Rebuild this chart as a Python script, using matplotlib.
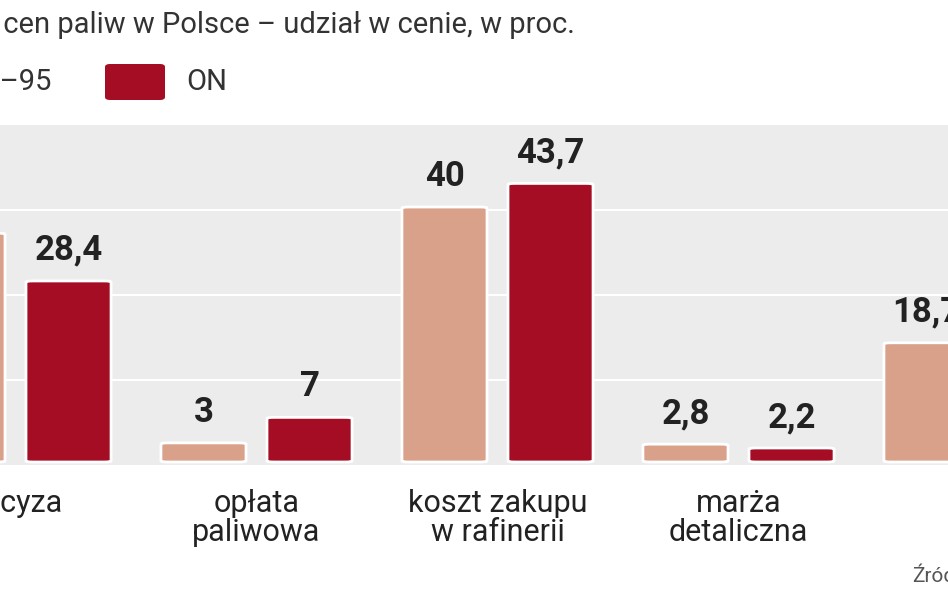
import matplotlib.pyplot as plt
from matplotlib.patches import FancyBboxPatch

plt.rcParams['font.family'] = ['Roboto', 'DejaVu Sans']

categories = ['akcyza', 'opłata\npaliwowa', 'koszt zakupu\nw rafinerii', 'marża\ndetaliczna', 'VAT']
pb95 = [35.9, 3, 40, 2.8, 18.7]
on = [28.4, 7, 43.7, 2.2, 18.7]
labels_pb = ['35,9', '3', '40', '2,8', '18,7']
labels_on = ['28,4', '7', '43,7', '2,2', '18,7']
grid_vals = [12.9, 26.2, 39.5]

c_pb = '#d9a08a'
c_on = '#a50d24'

W, H = 948, 593
fig = plt.figure(figsize=(W / 100, H / 100), dpi=100)
# gray plot area, px 125..465
ax = fig.add_axes([0, 1 - 465 / H, 1, 340 / H])
ax.set_facecolor('#ececec')
px_unit = 6.375
ax.set_ylim(-3 / px_unit, (462 - 125) / px_unit)
ax.set_xlim(-15.5 / 241, (948 - 15.5) / 241)
for g in grid_vals:
    ax.axhline(g, color='white', lw=1.5, zorder=1)
ax.axis('off')
ax.add_patch(plt.Rectangle((-1, -10), 10, 100, color='#ececec', zorder=0))

off, bw = 0.22, 0.353
for i in range(len(categories)):
    for x, v, c, t in [(i - off, pb95[i], c_pb, labels_pb[i]), (i + off, on[i], c_on, labels_on[i])]:
        p = FancyBboxPatch((x - bw / 2, 0), bw, v,
                           boxstyle='round,pad=0,rounding_size=0.03',
                           mutation_aspect=6, fc=c, ec='white', lw=2, zorder=3)
        ax.add_patch(p)
        ax.text(x, v + 2.2, t, ha='center', va='bottom', fontsize=25,
                fontweight='bold', color='#222222', fontstretch='condensed', zorder=4)
    ax.text(i, -4.2, categories[i], ha='center', va='top', fontsize=22,
            color='#222222', linespacing=1.0, clip_on=False)

# texts cut at the left edge like the reference: measure the hidden part
r = fig.canvas.get_renderer()
def hidden_width(s, size):
    t = fig.text(0, 0, s, fontsize=size)
    w = t.get_window_extent(r).width
    t.remove()
    return w

x0 = 3 - hidden_width('Struktura ', 21)
fig.text(x0 / W, 1 - 25 / H, 'Struktura cen paliw w Polsce – udział w cenie, w proc.',
         fontsize=21, color='#333333', va='center', ha='left')
x1 = -hidden_width('Pb', 21)
fig.text(x1 / W, 1 - 82 / H, 'Pb–95', fontsize=21, color='#333333', va='center')
fig.patches.append(FancyBboxPatch((105 / W, 1 - 100 / H), 60 / W, 36 / H,
                                  boxstyle='round,pad=0,rounding_size=0.005',
                                  fc=c_on, ec='none', transform=fig.transFigure, figure=fig))
fig.text(186 / W, 1 - 82 / H, 'ON', fontsize=21, color='#333333', va='center')
fig.text(912 / W, 1 - 576 / H, 'Źródło', fontsize=15, color='#555555', va='center')

fig.savefig('out.png', dpi=100)
